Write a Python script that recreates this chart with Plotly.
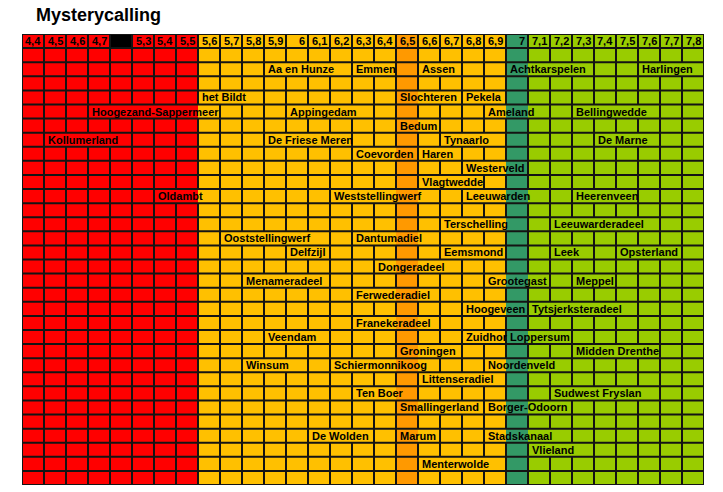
import plotly.graph_objects as go

# ---------------- data ----------------
title = "Mysterycalling"

score_labels = ["4,4", "4,5", "4,6", "4,7", "", "5,3", "5,4", "5,5", "5,6", "5,7",
                "5,8", "5,9", "6", "6,1", "6,2", "6,3", "6,4", "6,5", "6,6", "6,7",
                "6,8", "6,9", "7", "7,1", "7,2", "7,3", "7,4", "7,5", "7,6", "7,7", "7,8"]

n_data_rows = 31

names = ["Aa en Hunze", "Emmen", "Assen", "Achtkarspelen", "Harlingen",
         "het Bildt", "Slochteren", "Pekela",
         "Hoogezand-Sappermeer", "Appingedam", "Ameland", "Bellingwedde",
         "Bedum",
         "Kollumerland", "De Friese Meren", "Tynaarlo", "De Marne",
         "Coevorden", "Haren",
         "Westerveld",
         "Vlagtwedde",
         "Oldambt", "Weststellingwerf", "Leeuwarden", "Heerenveen",
         "Terschelling", "Leeuwarderadeel",
         "Ooststellingwerf", "Dantumadiel",
         "Delfzijl", "Eemsmond", "Leek", "Opsterland",
         "Dongeradeel",
         "Menameradeel", "Grootegast", "Meppel",
         "Ferwederadiel",
         "Hoogeveen", "Tytsjerksteradeel",
         "Franekeradeel",
         "Veendam", "Zuidhorn", "Loppersum",
         "Groningen", "Midden Drenthe",
         "Winsum", "Schiermonnikoog", "Noordenveld",
         "Littenseradiel",
         "Ten Boer", "Sudwest Fryslan",
         "Smallingerland", "Borger-Odoorn",
         "De Wolden", "Marum", "Stadskanaal",
         "Vlieland",
         "Menterwolde"]

scores = ["5,9", "6,3", "6,6", "7", "7,6",
          "5,6", "6,5", "6,8",
          "4,7", "6", "6,9", "7,3",
          "6,5",
          "4,5", "5,9", "6,7", "7,4",
          "6,3", "6,6",
          "6,8",
          "6,6",
          "5,4", "6,2", "6,8", "7,3",
          "6,7", "7,2",
          "5,7", "6,3",
          "6", "6,7", "7,2", "7,5",
          "6,4",
          "5,8", "6,9", "7,3",
          "6,3",
          "6,8", "7,1",
          "6,3",
          "5,9", "6,8", "7",
          "6,5", "7,3",
          "5,8", "6,2", "6,9",
          "6,6",
          "6,3", "7,2",
          "6,5", "6,9",
          "6,1", "6,5", "6,9",
          "7,1",
          "6,6"]

rows = [2, 2, 2, 2, 2,
        4, 4, 4,
        5, 5, 5, 5,
        6,
        7, 7, 7, 7,
        8, 8,
        9,
        10,
        11, 11, 11, 11,
        13, 13,
        14, 14,
        15, 15, 15, 15,
        16,
        17, 17, 17,
        18,
        19, 19,
        20,
        21, 21, 21,
        22, 22,
        23, 23, 23,
        24,
        25, 25,
        26, 26,
        28, 28, 28,
        29,
        30]

# ---------------- styling ----------------
W, H = 723, 492
ML, MT = 22, 34
PLOT_W, PLOT_H = 682, 451
MR, MB = W - ML - PLOT_W, H - MT - PLOT_H
n_cols = len(score_labels)
n_rows_total = n_data_rows + 1
CELL_PX = PLOT_W / n_cols
FONT = "Liberation Sans, Arial, sans-serif"
FS = 11
PAD = 2

band_colors = ["#FF0000", "#000000", "#FFC000", "#FF9900", "#339966", "#99CC00"]


def band(label, header):
    if label == "":
        return 1 if header else 0
    v = float(label.replace(",", "."))
    if v < 5.55:
        return 0
    if abs(v - 6.5) < 1e-9:
        return 3
    if abs(v - 7.0) < 1e-9:
        return 4
    if v > 7.0:
        return 5
    return 2


# Arial bold advance widths (1/1000 em)
CW = {' ': 278, '-': 333, 'a': 556, 'b': 611, 'c': 556, 'd': 611, 'e': 556, 'f': 333,
      'g': 611, 'h': 611, 'i': 278, 'j': 278, 'k': 556, 'l': 278, 'm': 889, 'n': 611,
      'o': 611, 'p': 611, 'q': 611, 'r': 389, 's': 556, 't': 333, 'u': 611, 'v': 556,
      'w': 778, 'x': 556, 'y': 556, 'z': 500, 'A': 722, 'B': 722, 'C': 722, 'D': 722,
      'E': 667, 'F': 611, 'G': 778, 'H': 722, 'I': 278, 'L': 611, 'M': 833, 'O': 778,
      'P': 667, 'S': 667, 'T': 611, 'V': 667, 'W': 944, 'Z': 611}


def text_px(s):
    return sum(CW.get(c, 600) for c in s) * FS / 1000.0


# heatmap matrix
z = []
for r in range(n_rows_total):
    z.append([band(lab, r == 0) for lab in score_labels])

colorscale = [[i / 5, c] for i, c in enumerate(band_colors)]

fig = go.Figure()
fig.add_trace(go.Heatmap(z=z, x=list(range(n_cols)), y=list(range(n_rows_total)),
                         colorscale=colorscale, zmin=0, zmax=5, showscale=False,
                         hoverinfo="skip"))

# label placement: columns and overflow spans
col_of = [score_labels.index(s) for s in scores]
occupied = {}
for c, r in zip(col_of, rows):
    occupied.setdefault(r, set()).add(c)

hidden = set()  # (row, boundary index k) boundary at x = k - 0.5
annotations = []
for name, c, r in zip(names, col_of, rows):
    others = sorted(x for x in occupied[r] if x > c)
    limit_col = others[0] if others else n_cols
    avail = (limit_col - c) * CELL_PX - PAD
    txt = name
    while text_px(txt) > avail and len(txt) > 1:
        txt = txt[:-1]
    end_px = PAD + text_px(txt)
    last = c
    while last + 1 < limit_col and (last + 1 - c) * CELL_PX < end_px:
        last += 1
    for k in range(c + 1, last + 1):
        hidden.add((r, k))
    annotations.append(dict(x=c - 0.5, y=r, xref="x", yref="y", text="<b>" + txt + "</b>",
                            showarrow=False, xanchor="left", yanchor="middle", xshift=PAD,
                            font=dict(family=FONT, size=FS, color="#000000")))

# header labels
for i, lab in enumerate(score_labels):
    if lab:
        annotations.append(dict(x=i + 0.5, y=0, xref="x", yref="y", text="<b>" + lab + "</b>",
                                showarrow=False, xanchor="right", yanchor="middle", xshift=-1,
                                font=dict(family=FONT, size=FS, color="#000000")))

# gridlines
LINE = "#141414"
hx, hy = [], []
for r in range(n_rows_total + 1):
    hx += [-0.5, n_cols - 0.5, None]
    hy += [r - 0.5, r - 0.5, None]
vx, vy = [], []
for r in range(n_rows_total):
    for k in range(n_cols + 1):
        if (r, k) in hidden:
            continue
        vx += [k - 0.5, k - 0.5, None]
        vy += [r - 0.5, r + 0.5, None]
fig.add_trace(go.Scatter(x=vx, y=vy, mode="lines", line=dict(color=LINE, width=2),
                         hoverinfo="skip", showlegend=False, cliponaxis=False))
fig.add_trace(go.Scatter(x=hx, y=hy, mode="lines", line=dict(color=LINE, width=2),
                         hoverinfo="skip", showlegend=False, cliponaxis=False))

# title
annotations.append(dict(x=(34 - ML) / PLOT_W, y=1 + (MT - 14.5) / PLOT_H,
                        xref="paper", yref="paper", text="<b>" + title + "</b>",
                        showarrow=False, xanchor="left", yanchor="middle",
                        font=dict(family=FONT, size=18, color="#000000")))

fig.update_layout(
    width=W, height=H,
    margin=dict(l=ML, r=MR, t=MT, b=MB, pad=0),
    paper_bgcolor="white", plot_bgcolor="white",
    xaxis=dict(range=[-0.5, n_cols - 0.5], visible=False, fixedrange=True),
    yaxis=dict(range=[n_rows_total - 0.5, -0.5], visible=False, fixedrange=True),
    annotations=annotations,
    showlegend=False,
    hovermode=False,
)

fig.write_html("out.html",
               config={"displayModeBar": False, "staticPlot": True},
               post_script="document.body.style.margin='0';document.body.style.overflow='hidden';")
